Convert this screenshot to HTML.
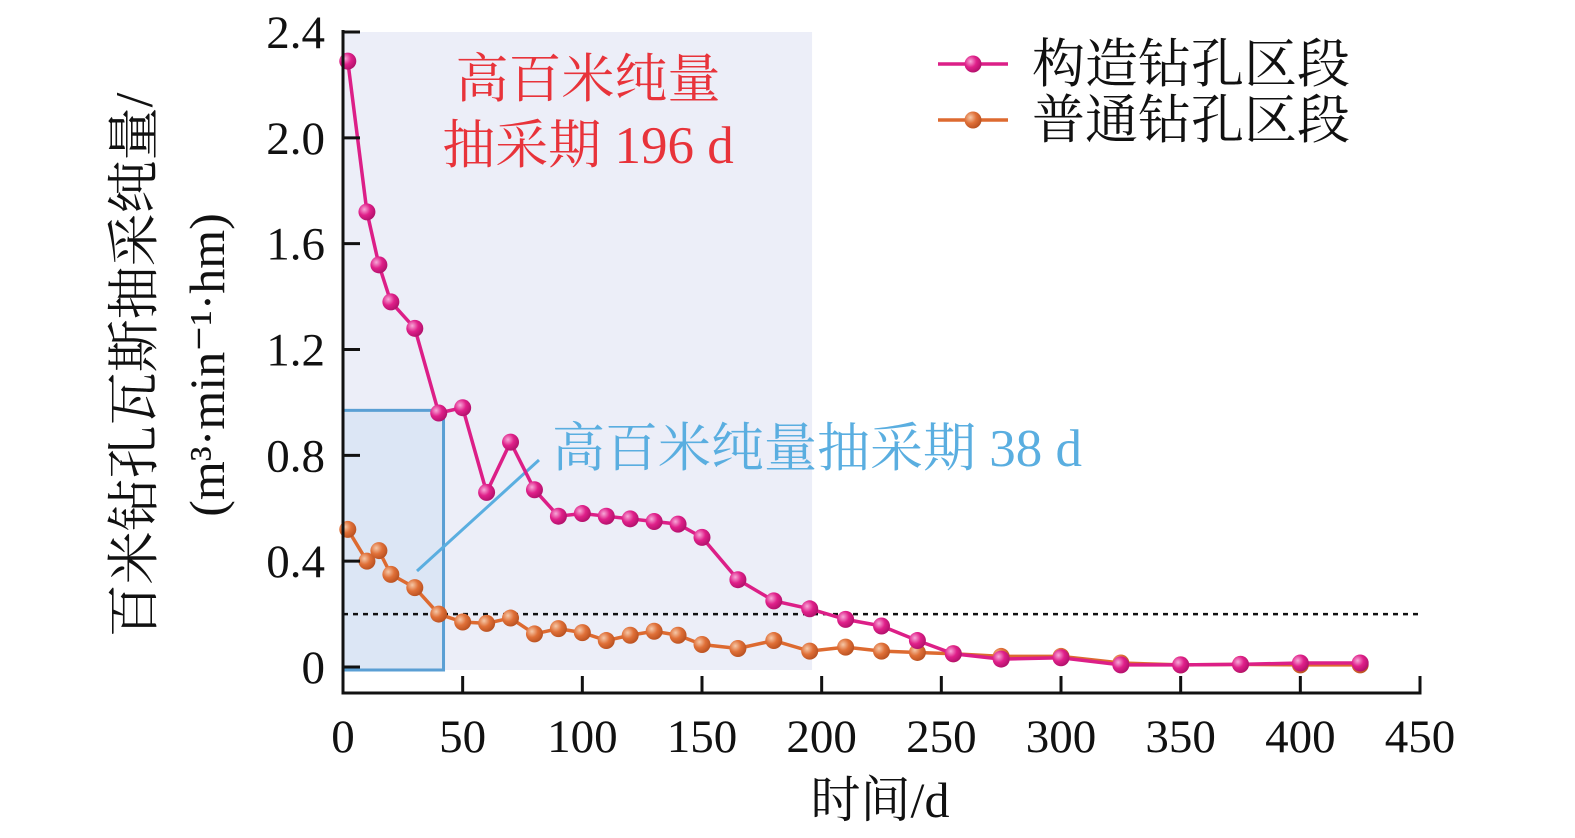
<!DOCTYPE html>
<html><head><meta charset="utf-8"><style>
body{margin:0;background:#fff}
svg{display:block}
text{font-family:"Liberation Serif","Noto Serif CJK SC",serif}
</style></head><body>
<svg id="chart" width="1575" height="838" viewBox="0 0 1575 838" xmlns="http://www.w3.org/2000/svg">
<defs>
<radialGradient id="gp" cx="0.35" cy="0.35" r="0.7"><stop offset="0" stop-color="#f7a8d8"/><stop offset="0.5" stop-color="#e0208a"/><stop offset="1" stop-color="#b0106a"/></radialGradient>
<radialGradient id="go" cx="0.35" cy="0.35" r="0.7"><stop offset="0" stop-color="#f5c8a8"/><stop offset="0.5" stop-color="#e07038"/><stop offset="1" stop-color="#b85020"/></radialGradient>
</defs>
<g id="plot"></g>
</svg>
<script>
const days=[2,10,15,20,30,40,50,60,70,80,90,100,110,120,130,140,150,165,180,195,210,225,240,255,275,300,325,350,375,400,425];
const structValues=[2.29,1.72,1.52,1.38,1.28,0.96,0.98,0.66,0.85,0.67,0.57,0.58,0.57,0.56,0.55,0.54,0.49,0.33,0.25,0.22,0.18,0.155,0.10,0.05,0.03,0.035,0.008,0.008,0.01,0.015,0.015];
const normalValues=[0.52,0.40,0.44,0.35,0.30,0.20,0.17,0.165,0.185,0.125,0.145,0.13,0.10,0.12,0.135,0.12,0.085,0.07,0.10,0.06,0.075,0.06,0.055,0.05,0.04,0.04,0.015,0.008,0.01,0.008,0.008];
const xTicks=[0,50,100,150,200,250,300,350,400,450];
const yTicks=[0,0.4,0.8,1.2,1.6,2.0,2.4];
const yTickLabels=["0","0.4","0.8","1.2","1.6","2.0","2.4"];
const longPeriod=196, shortPeriod=42, shortTop=0.97, threshold=0.2;

const X0=343,X1=1420,Y0=667,Ytop=32,AX=693;
const xs=v=>X0+(v/450)*(X1-X0);
const ys=v=>Y0-(v/2.4)*(Y0-Ytop);
const NS="http://www.w3.org/2000/svg";
const g=document.getElementById('plot');
function mk(t,a,p){const e=document.createElementNS(NS,t);for(const k in a)e.setAttribute(k,a[k]);(p||g).appendChild(e);return e;}

let e=mk('rect',{x:X0,y:ys(2.4),width:xs(longPeriod)-X0,height:670-ys(2.4),fill:'#eceef8'});


e=mk('rect',{x:X0,y:ys(shortTop),width:xs(shortPeriod)-X0,height:670-ys(shortTop),fill:'#dce6f5',stroke:'#5a9fd4','stroke-width':3});


e=mk('line',{x1:X0,x2:X1,y1:ys(threshold),y2:ys(threshold),stroke:'#111','stroke-width':2.5,'stroke-dasharray':'5,5'});


e=mk('line',{x1:417,y1:571,x2:539,y2:460,stroke:'#5aaee0','stroke-width':3});



function series(vals,color,grad,name){
  const pts=days.map((d,i)=>xs(d)+','+ys(vals[i])).join(' ');
  let l=mk('polyline',{points:pts,fill:'none',stroke:color,'stroke-width':3.5});
  
  
  days.forEach((d,i)=>{
    const c=mk('circle',{cx:xs(d),cy:ys(vals[i]),r:8.5,fill:'url(#'+grad+')'});
    
    
  });
}
series(normalValues,'#dd6a30','go','normal-borehole');
series(structValues,'#dc1f87','gp','structural-borehole');

e=mk('path',{d:`M${X0},30 V${AX} H${X1} V${AX-17}`,fill:'none',stroke:'#111','stroke-width':3});


yTicks.forEach((v,i)=>{
  let t=mk('line',{x1:X0,x2:X0+17,y1:ys(v),y2:ys(v),stroke:'#111','stroke-width':3});
  
  
  let s=mk('text',{x:325,y:ys(v)+16,'text-anchor':'end','font-size':47,fill:'#111'});
  s.textContent=yTickLabels[i];
  
  
});
xTicks.forEach(v=>{
  let t=mk('line',{x1:xs(v),x2:xs(v),y1:AX,y2:AX-17,stroke:'#111','stroke-width':3});
  
  
  let s=mk('text',{x:xs(v),y:752,'text-anchor':'middle','font-size':47,fill:'#111'});
  s.textContent=v;
  
  
});
function txt(x,y,s,size,fill,name,extra){const t=mk('text',Object.assign({x:x,y:y,'font-size':size,fill:fill},extra||{}));t.textContent=s;

return t;}
txt(880,817,'时间/d',50,'#111','x-axis-title',{'text-anchor':'middle'});
txt(0,0,'百米钻孔瓦斯抽采纯量/',53,'#111','y-axis-title',{'text-anchor':'middle',transform:'translate(152,365) rotate(-90)'});
txt(0,0,'(m³·min⁻¹·hm)',50,'#111','y-axis-unit',{'text-anchor':'middle',transform:'translate(224,365) rotate(-90)'});
txt(588,97,'高百米纯量',53,'#e8333a','long-period-label-1',{'text-anchor':'middle'});
txt(588,163,'抽采期 196 d',53,'#e8333a','long-period-label-2',{'text-anchor':'middle'});
txt(552,466,'高百米纯量抽采期 38 d',53,'#5aaee0','short-period-label');
let l1=mk('line',{x1:938,x2:1008,y1:64,y2:64,stroke:'#dc1f87','stroke-width':3.5});


let c1=mk('circle',{cx:973,cy:64,r:8.5,fill:'url(#gp)'});


txt(1032,82,'构造钻孔区段',53,'#111','legend-entry-structural');
let l2=mk('line',{x1:938,x2:1008,y1:120,y2:120,stroke:'#dd6a30','stroke-width':3.5});


let c2=mk('circle',{cx:973,cy:120,r:8.5,fill:'url(#go)'});


txt(1032,138,'普通钻孔区段',53,'#111','legend-entry-normal');
</script>
</body></html>
